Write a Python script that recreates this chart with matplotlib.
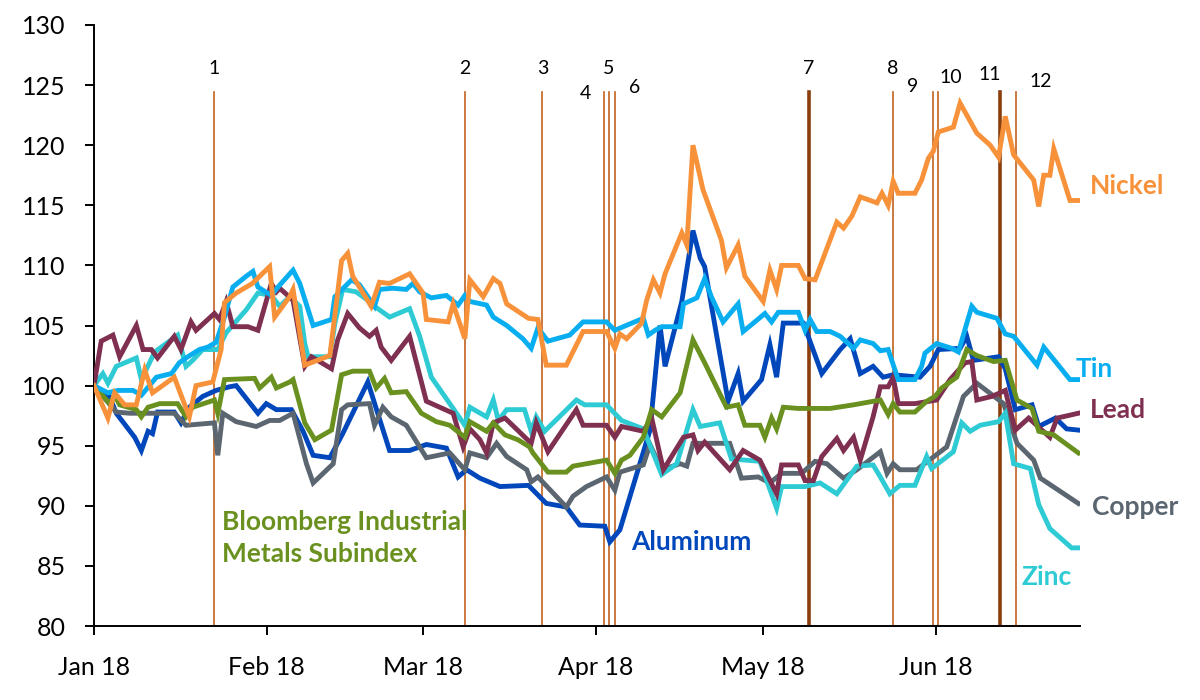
import numpy as np
import pandas as pd
import matplotlib
matplotlib.use("Agg")
import matplotlib.pyplot as plt
import matplotlib.dates as mdates

plt.rcParams['font.family'] = ['Lato', 'DejaVu Sans']

# days since 1 Jan 2018, index level (1 Jan 2018 = 100)
nickel_days = [0, 2.5, 3.7, 5.5, 7.6, 9.1, 10.5, 14.4, 17.1, 18.3, 21.3, 22.8, 23.4, 25.5, 28.4, 31.5,
               32.4, 35.1, 35.7, 37.8, 42.3, 44.4, 45.5, 46.4, 49.7, 51.2, 53.0, 56.6, 59.0, 59.6, 63.5,
               64.4, 66.5, 67.4, 69.8, 71.6, 72.8, 74.0, 77.9, 79.6, 81.1, 84.7, 87.7, 91.9, 93.4, 94.3,
               95.5, 98.2, 99.1, 100.3, 101.5, 102.4, 105.4, 106.3, 107.4, 109.2, 112.5, 113.4, 115.5,
               116.7, 120.0, 121.2, 122.4, 123.3, 126.3, 127.5, 129.3, 131.4, 133.2, 134.4, 135.9, 137.4,
               140.4, 141.3, 142.4, 143.3, 144.2, 147.2, 148.4, 149.6, 150.5, 151.4, 154.1, 155.3, 158.3,
               160.7, 162.2, 163.4, 164.9, 168.5, 169.4, 170.3, 171.4, 172.1, 175.0, 176.5]
nickel = [100, 97.3, 99.4, 98.4, 98.4, 101.3, 99.4, 100.7, 97.4, 100.0, 100.3, 103.0, 106.9, 107.7, 108.5,
          109.9, 105.7, 107.4, 108.0, 101.7, 102.5, 110.4, 111.0, 109.1, 106.6, 108.6, 108.5, 109.3, 107.7,
          105.5, 105.3, 106.8, 103.9, 108.8, 107.4, 108.9, 108.5, 106.8, 105.6, 105.5, 101.7, 101.7, 104.5,
          104.5, 103.1, 104.3, 103.9, 105.2, 107.1, 108.8, 107.7, 109.3, 112.7, 111.7, 120.0, 116.3, 112.1,
          109.8, 111.7, 109.1, 107.0, 109.6, 108.0, 110.0, 110.0, 108.9, 108.8, 111.4, 113.6, 113.1, 114.1,
          115.7, 115.2, 116.0, 115.0, 117.0, 116.0, 116.0, 117.1, 118.9, 119.5, 121.1, 121.5, 123.5, 121.0,
          120.0, 119.0, 122.4, 119.2, 117.1, 114.9, 117.5, 117.5, 119.7, 115.4, 115.4]

tin_days = [0, 2.5, 4.3, 7.0, 8.5, 11.2, 13.9, 15.3, 16.5, 18.9, 20.4, 21.9, 23.4, 24.9, 27.3, 28.5, 29.4,
            31.8, 33.0, 35.1, 35.7, 36.9, 39.3, 42.6, 43.2, 46.2, 47.6, 50.3, 51.2, 53.6, 56.0, 57.2, 58.4,
            60.5, 63.2, 65.3, 66.5, 67.4, 70.4, 71.6, 74.0, 76.9, 78.4, 79.6, 81.4, 85.3, 87.7, 91.9, 93.4,
            94.9, 98.5, 99.4, 100.6, 101.8, 105.1, 105.7, 108.1, 109.5, 110.7, 112.8, 115.5, 116.4, 118.5,
            120.3, 121.5, 122.7, 126.3, 127.5, 128.4, 129.6, 132.0, 133.8, 136.2, 137.4, 139.7, 141.0,
            142.4, 144.2, 147.2, 148.4, 149.0, 151.1, 153.8, 155.0, 157.4, 158.3, 161.9, 163.4, 164.9,
            169.1, 170.3, 175.0, 176.5]
tin = [100, 99.4, 99.6, 99.6, 99.2, 100.7, 101.0, 101.9, 102.3, 103.0, 103.2, 103.6, 105.7, 108.2, 109.1,
       109.5, 108.2, 107.5, 108.2, 109.3, 109.6, 108.5, 105.0, 105.5, 107.4, 108.8, 108.4, 106.6, 108.0,
       108.1, 108.0, 108.5, 107.8, 107.3, 107.5, 106.7, 107.5, 107.0, 106.7, 105.7, 105.0, 103.9, 103.1,
       104.8, 103.7, 104.2, 105.3, 105.3, 104.6, 104.9, 105.6, 104.2, 104.6, 104.9, 104.9, 106.8, 107.3,
       108.9, 107.4, 105.3, 106.8, 104.5, 105.3, 106.0, 105.3, 106.1, 106.1, 104.6, 105.5, 104.5, 104.5,
       104.1, 103.1, 103.8, 103.5, 102.9, 103.0, 100.5, 100.5, 101.6, 102.7, 103.5, 103.1, 102.8, 106.6,
       106.1, 105.6, 104.3, 104.1, 101.7, 103.2, 100.5, 100.5]

lead_days = [0, 1.3, 3.4, 4.6, 7.6, 8.8, 10.3, 11.4, 14.4, 15.6, 17.4, 18.3, 21.6, 22.5, 23.7, 24.9, 27.6,
             29.4, 31.8, 32.7, 33.3, 35.7, 37.8, 39.0, 42.6, 43.7, 45.5, 47.6, 49.4, 50.6, 51.5, 53.3, 56.6,
             59.6, 64.4, 66.2, 67.4, 69.2, 70.4, 71.6, 73.7, 78.4, 79.3, 81.4, 86.5, 87.7, 91.9, 93.4, 94.6,
             98.5, 100.0, 102.1, 105.7, 107.4, 108.3, 109.5, 114.0, 116.4, 119.4, 122.4, 123.3, 126.3, 127.5,
             129.0, 130.5, 133.2, 134.4, 136.2, 137.4, 139.7, 141.0, 142.4, 143.3, 144.2, 147.2, 151.1,
             153.5, 156.2, 157.4, 158.3, 161.0, 163.4, 165.2, 167.6, 171.4, 172.7, 176.5]
lead = [100, 103.7, 104.2, 102.4, 105.0, 103.0, 103.0, 102.3, 104.1, 103.0, 105.3, 104.6, 106.0, 105.5,
        107.0, 104.9, 104.9, 104.6, 108.5, 107.8, 108.1, 107.1, 101.6, 102.4, 101.4, 103.8, 106.0, 104.8,
        104.1, 104.6, 103.2, 102.1, 104.1, 98.7, 97.7, 94.9, 96.4, 95.5, 94.4, 96.9, 97.3, 95.2, 96.9, 94.5,
        98.0, 96.7, 96.7, 95.7, 96.6, 96.2, 97.3, 93.0, 95.7, 95.9, 94.6, 95.3, 93.0, 94.6, 93.8, 91.0, 93.4,
        93.4, 92.1, 92.1, 94.1, 95.6, 94.6, 95.7, 93.8, 97.4, 99.9, 99.9, 100.7, 98.5, 98.5, 98.8, 100.5,
        101.9, 102.0, 98.8, 99.1, 99.6, 96.3, 97.3, 95.7, 97.3, 97.7]

zinc_days = [0, 1.6, 2.5, 4.0, 7.6, 8.5, 10.9, 15.0, 16.5, 17.7, 19.5, 22.2, 23.7, 27.3, 29.4, 31.8, 33.3,
             35.1, 36.9, 37.8, 38.4, 42.3, 43.2, 44.6, 47.0, 49.1, 50.3, 53.0, 56.6, 58.4, 60.5, 63.8, 66.5,
             67.4, 70.4, 71.6, 72.5, 74.0, 77.2, 78.4, 79.3, 80.8, 86.5, 88.0, 91.9, 94.6, 98.5, 101.8,
             104.5, 107.4, 108.7, 112.2, 114.3, 119.4, 122.4, 123.3, 127.5, 130.2, 133.2, 136.8, 139.7,
             141.0, 142.7, 144.5, 147.2, 149.3, 150.2, 154.1, 155.6, 157.1, 158.9, 162.2, 163.4, 164.9,
             167.9, 169.4, 171.4, 175.3, 176.5]
zinc = [100, 101.0, 100.2, 101.6, 102.3, 100.5, 102.8, 104.2, 101.6, 102.1, 103.0, 103.0, 104.4, 106.3,
        107.7, 107.5, 106.6, 107.4, 106.6, 103.5, 102.4, 102.4, 105.2, 108.0, 107.8, 107.1, 106.6, 105.7,
        106.4, 104.1, 100.7, 98.5, 96.7, 98.2, 97.4, 98.8, 97.1, 98.0, 98.0, 96.2, 97.4, 96.2, 98.8, 98.4,
        98.4, 97.1, 96.4, 92.6, 93.5, 98.0, 96.6, 96.9, 93.9, 93.7, 89.8, 91.6, 91.6, 91.9, 91.0, 93.3, 93.4,
        92.4, 91.0, 91.7, 91.7, 94.1, 93.1, 94.5, 96.9, 96.2, 96.7, 97.0, 97.7, 93.5, 93.1, 90.1, 88.1, 86.5,
        86.5]

copper_days = [0, 4.0, 6.4, 14.4, 16.5, 21.6, 22.2, 23.1, 25.5, 29.1, 31.5, 33.3, 35.7, 38.1, 39.3, 42.9,
               44.4, 45.5, 49.4, 50.3, 51.8, 53.3, 56.0, 59.6, 63.8, 66.5, 67.4, 70.4, 72.2, 74.0, 77.6,
               78.4, 79.6, 84.7, 85.9, 88.3, 91.9, 93.4, 94.3, 98.5, 99.7, 101.8, 105.1, 106.3, 107.4, 114.0,
               116.1, 119.1, 121.2, 123.3, 126.9, 129.3, 131.4, 134.4, 136.8, 141.0, 142.2, 143.3, 144.5,
               147.5, 152.9, 155.9, 158.3, 163.1, 165.5, 168.5, 169.7, 176.5]
copper = [100, 97.8, 97.7, 97.7, 96.7, 96.9, 94.2, 97.7, 97.0, 96.6, 97.1, 97.1, 97.7, 93.5, 91.9, 93.5,
          98.0, 98.4, 98.5, 96.7, 98.2, 97.4, 96.7, 94.0, 94.4, 93.0, 94.4, 94.0, 95.2, 94.1, 93.0, 92.0,
          92.4, 89.9, 90.8, 91.6, 92.4, 91.3, 92.8, 93.4, 95.1, 93.0, 93.5, 93.3, 95.2, 95.2, 92.3, 92.4,
          91.9, 92.7, 92.7, 93.7, 93.5, 92.3, 93.0, 94.5, 92.7, 93.5, 93.0, 93.0, 94.9, 99.1, 100.2, 98.5,
          95.2, 93.8, 92.3, 90.2]

aluminum_days = [0, 2.8, 4.0, 7.3, 8.5, 9.7, 10.5, 11.4, 14.4, 15.6, 17.1, 19.5, 21.9, 24.3, 25.5, 29.4,
                 30.9, 32.7, 35.4, 37.5, 39.3, 42.3, 44.6, 49.1, 53.0, 56.6, 59.6, 63.2, 65.3, 66.8, 69.2,
                 72.8, 77.9, 81.1, 84.7, 87.1, 91.6, 92.5, 94.3, 99.7, 101.5, 102.4, 105.4, 107.4, 108.7,
                 109.5, 113.7, 115.5, 116.4, 119.7, 121.2, 122.4, 123.6, 127.2, 130.5, 133.8, 135.6, 137.4,
                 139.7, 141.5, 143.3, 148.1, 149.9, 151.4, 155.3, 156.5, 157.7, 162.2, 163.4, 165.2, 168.2,
                 169.4, 172.4, 174.4, 176.5]
aluminum = [100, 99.1, 97.7, 95.7, 94.6, 96.2, 96.0, 97.8, 97.8, 96.9, 98.2, 99.1, 99.6, 99.9, 100.0,
            97.7, 98.5, 98.0, 98.0, 96.2, 94.2, 94.0, 96.0, 100.3, 94.6, 94.6, 95.1, 94.8, 92.4, 93.0, 92.3,
            91.6, 91.7, 90.2, 89.9, 88.4, 88.3, 87.0, 88.0, 96.3, 105.0, 101.6, 107.0, 112.9, 110.6, 109.9,
            98.7, 101.0, 98.7, 100.5, 103.4, 100.7, 105.2, 105.2, 101.0, 103.0, 103.9, 101.0, 101.6, 100.7,
            100.9, 100.7, 101.6, 103.0, 103.1, 104.1, 102.1, 102.4, 101.4, 98.0, 98.4, 96.6, 97.3, 96.4, 96.3]

bcom_days = [0, 2.8, 3.7, 4.6, 7.6, 8.5, 9.7, 11.8, 15.0, 16.5, 17.7, 21.6, 22.2, 23.4, 28.8, 29.7, 31.8,
             32.7, 35.1, 35.7, 37.8, 39.6, 42.6, 44.4, 46.4, 49.4, 50.6, 52.1, 53.3, 56.0, 58.7, 61.4, 63.8,
             66.5, 67.4, 70.4, 71.6, 73.7, 76.0, 78.1, 78.7, 81.4, 84.7, 85.9, 91.9, 93.4, 94.6, 96.1, 98.5,
             100.0, 101.8, 105.1, 107.4, 109.5, 113.4, 115.5, 116.7, 119.4, 120.3, 121.5, 122.4, 123.6,
             126.3, 132.0, 136.2, 141.0, 142.4, 143.3, 144.5, 147.2, 149.3, 150.8, 152.0, 154.7, 156.5,
             158.3, 161.3, 163.4, 165.5, 168.2, 169.4, 172.1, 176.5]
bcom = [100, 98.5, 99.2, 98.4, 98.0, 97.4, 98.2, 98.5, 98.5, 97.4, 98.2, 98.8, 97.7, 100.5, 100.6, 99.8,
        100.7, 99.8, 100.3, 100.5, 96.9, 95.5, 96.3, 100.9, 101.2, 101.2, 99.8, 100.6, 99.4, 99.5, 97.7,
        97.0, 96.7, 95.7, 97.0, 96.2, 96.9, 95.9, 95.5, 94.9, 94.4, 92.8, 92.8, 93.3, 93.8, 92.7, 93.8, 94.2,
        95.7, 98.0, 97.4, 99.4, 103.8, 101.9, 98.2, 98.4, 96.7, 96.7, 95.7, 97.3, 96.4, 98.2, 98.1, 98.1,
        98.4, 98.8, 97.6, 98.5, 97.8, 97.8, 98.7, 99.1, 99.8, 100.7, 103.0, 102.5, 102.0, 102.1, 98.8, 98.1,
        96.2, 95.9, 94.4]

# numbered events
event_days = [21.5, 66.5, 80.4, 91.5, 92.3, 93.4, 128.2, 143.3, 150.4, 151.4, 162.4, 165.4]
event_labels = [str(i) for i in range(1, 13)]

base = pd.Timestamp("2018-01-01")


def to_dates(days):
    return base + pd.to_timedelta(np.array(days), unit="D")


def day(d):
    return to_dates([d])[0]


fig = plt.figure(figsize=(12, 7), dpi=100)
ax = fig.add_axes([0.0783, 0.1057, 0.8217, 0.8586])

# event lines
thick = {6, 10}
for i, d in enumerate(event_days):
    if i in thick:
        ax.plot([day(d)] * 2, [80, 124.4], color="#8B3E0C", lw=2.6, zorder=1)
    else:
        ax.plot([day(d)] * 2, [80, 124.4], color="#C0621F", lw=1.2, zorder=1)

label_pos = [(21.5, 126.4), (66.5, 126.4), (80.4, 126.4), (88.2, 124.3), (92.3, 126.4), (97.0, 124.8),
             (128.2, 126.4), (143.3, 126.4), (146.8, 124.9), (153.7, 125.6), (160.7, 125.9), (169.8, 125.3)]
for lab, (lx, ly) in zip(event_labels, label_pos):
    ax.text(day(lx), ly, lab, ha="center", va="center", fontsize=14, color="black")

series = [
    (aluminum_days, aluminum, "#0047BB"),
    (copper_days, copper, "#5B6670"),
    (zinc_days, zinc, "#2ECBD4"),
    (lead_days, lead, "#7F2F50"),
    (bcom_days, bcom, "#6A9120"),
    (tin_days, tin, "#08AEEF"),
    (nickel_days, nickel, "#F7923A"),
]
for days, vals, col in series:
    ax.plot(to_dates(days), vals, color=col, lw=3.5, solid_joinstyle="miter", zorder=3)

lab_kw = dict(fontsize=19, fontweight="bold", va="center", ha="left")
ax.text(day(178.6), 116.6, "Nickel", color="#F7923A", **lab_kw)
ax.text(day(176.0), 101.4, "Tin", color="#08AEEF", **lab_kw)
ax.text(day(178.6), 98.0, "Lead", color="#7F2F50", **lab_kw)
ax.text(day(179.0), 89.9, "Copper", color="#5B6670", **lab_kw)
ax.text(day(166.4), 84.1, "Zinc", color="#2ECBD4", **lab_kw)
ax.text(day(96.4), 87.0, "Aluminum", color="#0047BB", **lab_kw)
ax.text(day(22.9), 87.3, "Bloomberg Industrial\nMetals Subindex", color="#6A9120",
        linespacing=1.4, **lab_kw)

ax.set_ylim(80, 130)
ax.set_yticks(np.arange(80, 131, 5))
ax.set_xlim(base, day(176.8))
ax.xaxis.set_major_locator(mdates.MonthLocator())
ax.xaxis.set_major_formatter(mdates.DateFormatter("%b %y"))
ax.tick_params(axis="both", labelsize=18, direction="out", length=6.5, width=1.4, colors="black")
ax.tick_params(axis="x", pad=15)
ax.tick_params(axis="y", pad=14)
for s in ["top", "right"]:
    ax.spines[s].set_visible(False)
for s in ["left", "bottom"]:
    ax.spines[s].set_linewidth(1.4)

fig.savefig("out.png", dpi=100)
